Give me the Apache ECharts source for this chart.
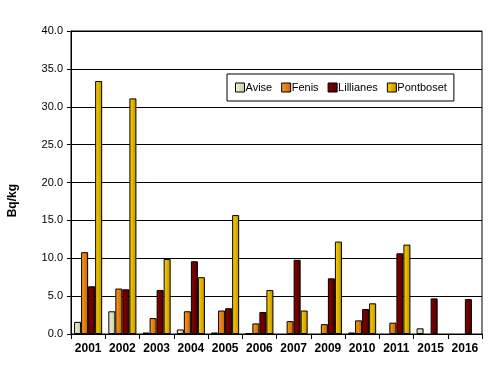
<!DOCTYPE html>
<html>
<head>
<meta charset="utf-8">
<script src="https://cdn.jsdelivr.net/npm/echarts@6/dist/echarts.min.js"></script>
<style>
  html, body { margin: 0; padding: 0; background: #fff; }
  #main { width: 492px; height: 378px; }
</style>
</head>
<body>
<div id="main"></div>
<script>
var myChart = echarts.init(document.getElementById('main'));

// anni (categorie)
var years = ['2001', '2002', '2003', '2004', '2005', '2006', '2007', '2009', '2010', '2011', '2015', '2016'];
// valori Bq/kg per stazione, '-' = nessun dato
var avise     = [1.6, 3.0, 0.2, 0.6, 0.2, 0.1, '-', '-', 0.2, '-', 0.75, '-'];
var fenis     = [10.8, 6.0, 2.1, 3.0, 3.1, 1.4, 1.7, 1.3, 1.8, 1.5, '-', '-'];
var lillianes = [6.3, 5.9, 5.8, 9.6, 3.4, 2.9, 9.8, 7.35, 3.3, 10.65, 4.7, 4.6];
var pontboset = [33.4, 31.1, 9.9, 7.5, 15.7, 5.8, 3.1, 12.2, 4.05, 11.8, '-', '-'];

function grad(c1, c2) {
    return new echarts.graphic.LinearGradient(0, 0, 1, 0, [
        { offset: 0, color: c1 },
        { offset: 1, color: c2 }
    ]);
}

function barSeries(name, data, c1, c2) {
    return {
        name: name,
        type: 'bar',
        data: data,
        barGap: '0%',
        barCategoryGap: '18%',
        itemStyle: {
            color: grad(c1, c2),
            borderColor: '#000',
            borderWidth: 1
        }
    };
}

var option = {
    backgroundColor: '#fff',
    animation: false,
    grid: {
        left: 71,
        right: 10,
        top: 31,
        bottom: 44,
        show: true,
        borderColor: '#000',
        borderWidth: 1
    },
    legend: {
        top: 74,
        left: 227,
        width: 222,
        padding: [8, 7, 8, 8],
        borderColor: '#000',
        borderWidth: 1,
        backgroundColor: '#fff',
        icon: 'rect',
        itemWidth: 9,
        itemHeight: 9,
        itemGap: 9,
        itemStyle: { borderColor: '#000', borderWidth: 1 },
        textStyle: { fontFamily: 'Liberation Sans, Arial', fontSize: 11, color: '#000', padding: [0, 0, 0, -4] },
        data: ['Avise', 'Fenis', 'Lillianes', 'Pontboset']
    },
    graphic: [{
        type: 'text',
        left: 7,
        top: 184,
        rotation: Math.PI / 2,
        style: {
            text: 'Bq/kg',
            fontFamily: 'Liberation Sans, Arial',
            fontSize: 12,
            fontWeight: 'bold',
            fill: '#000'
        }
    }],
    xAxis: {
        type: 'category',
        data: years,
        axisLine: { lineStyle: { color: '#000', width: 1 } },
        axisTick: { show: true, length: 5, lineStyle: { color: '#000' } },
        axisLabel: {
            interval: 0,
            color: '#000',
            fontFamily: 'Liberation Sans, Arial',
            fontSize: 12,
            fontWeight: 'bold',
            margin: 9
        }
    },
    yAxis: {
        type: 'value',
        min: 0,
        max: 40,
        interval: 5,
        axisLine: { show: true, lineStyle: { color: '#000', width: 1 } },
        axisTick: { show: true, length: 4, lineStyle: { color: '#000' } },
        splitLine: { lineStyle: { color: '#000', width: 1 } },
        axisLabel: {
            color: '#000',
            fontFamily: 'Liberation Sans, Arial',
            fontSize: 11,
            margin: 8,
            formatter: function (v) { return v.toFixed(1); }
        }
    },
    series: [
        barSeries('Avise', avise, '#f4f4d8', '#c8c8a0'),
        barSeries('Fenis', fenis, '#ffa020', '#c86000'),
        barSeries('Lillianes', lillianes, '#8a0000', '#500000'),
        barSeries('Pontboset', pontboset, '#ffd400', '#c09000')
    ]
};

myChart.setOption(option);
</script>
</body>
</html>
